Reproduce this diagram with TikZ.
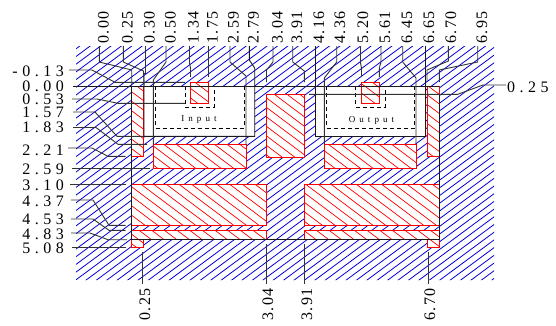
\documentclass[tikz,border=0pt]{standalone}
\usepackage{fontspec}
\setmainfont{Liberation Serif}
\newfontfamily\rotfont[LetterSpace=9]{Liberation Serif}
\newfontfamily\capfont[LetterSpace=45]{Liberation Serif}
\def\trackitem#1{\ifx#1\relax\else#1\kern4.5pt\expandafter\trackitem\fi}
\def\tracked#1{\expandafter\trackitem#1\relax}
\tikzset{
  ink/.style={draw=black!90,line width=0.9pt,line join=miter},
  leader/.style={draw=black!80,line width=0.9pt},
  bluehatch/.style={draw=blue!85!black,line width=0.8pt},
  redhatch/.style={draw=red,line width=0.7pt},
  redbox/.style={draw=red,line width=0.9pt},
  dashbox/.style={draw=black,line width=0.8pt,dash pattern=on 4pt off 3pt},
  hlabel/.style={font=\fontsize{16}{16}\selectfont,anchor=east,inner sep=0pt,text height=10pt,text depth=0pt},
  vlabel/.style={font=\rotfont\fontsize{16}{16}\selectfont,rotate=90,anchor=west,inner sep=0pt},
  blabel/.style={font=\rotfont\fontsize{16}{16}\selectfont,rotate=90,anchor=east,inner sep=0pt},
  caplabel/.style={font=\capfont\fontsize{9}{10}\selectfont,inner sep=0pt}
}
\newcommand{\hatchbox}[4]{%
  \begin{scope}
    \clip (#1,#2) rectangle (#3,#4);
    \foreach \k in {-40,...,40}
      \draw[redhatch] (120,{187+9.5*\k-0.75*12}) -- (460,{187+9.5*\k+0.75*328});
  \end{scope}
  \draw[redbox] (#1,#2) rectangle (#3,#4);
}
\begin{document}
\begin{tikzpicture}[x=1pt,y=-1pt]
\useasboundingbox (0,0) rectangle (556,325);
% blue hatch
\begin{scope}[even odd rule]
  \clip (76,46) rectangle (494,280)
    (144,86.3) rectangle (254.7,136.3)
    (315.3,86.3) rectangle (425.7,136.3)
    (131.7,86.3) rectangle (143,156.3)
    (427.7,86.3) rectangle (439,156.3)
    (153.3,144.3) rectangle (246,168.5)
    (324.3,144.3) rectangle (416.3,168.5)
    (266.3,94.3) rectangle (304.3,157)
    (190.3,82) rectangle (208.7,86.3)
    (361.7,82) rectangle (379.3,86.3)
    (131.7,184.5) rectangle (266.3,225.3)
    (304.3,184.5) rectangle (439,225.3)
    (131.7,230.2) rectangle (266.3,239.7)
    (304.3,230.2) rectangle (439,239.7)
    (131.7,239.7) rectangle (143,247.5)
    (427.7,239.7) rectangle (439,247.5);
  \foreach \k in {-5,...,75}
    \draw[bluehatch] (70,{56.5+7.7*\k+0.74*6}) -- (500,{56.5+7.7*\k-0.74*424});
\end{scope}
% red hatched parts
\hatchbox{131.7}{86.3}{143}{156.3}
\hatchbox{427.7}{86.3}{439}{156.3}
\hatchbox{153.3}{144.3}{246}{168.5}
\hatchbox{324.3}{144.3}{416.3}{168.5}
\hatchbox{266.3}{94.3}{304.3}{157}
\hatchbox{190.3}{82}{208.7}{103.3}
\hatchbox{361.7}{82}{379.3}{103.3}
\hatchbox{131.7}{184.5}{266.3}{225.3}
\hatchbox{304.3}{184.5}{439}{225.3}
\hatchbox{131.7}{230.2}{266.3}{239.7}
\hatchbox{304.3}{230.2}{439}{239.7}
\hatchbox{131.7}{239.7}{143}{247.5}
\hatchbox{427.7}{239.7}{439}{247.5}
% dashed boxes
\draw[dashbox] (155.3,86.3) rectangle (244,128);
\draw[dashbox] (185,86.3) -- (185,107) -- (214,107) -- (214,86.3);
\draw[dashbox] (326.5,86.3) rectangle (414.5,128);
\draw[dashbox] (355.5,86.3) -- (355.5,107) -- (385,107) -- (385,86.3);
\node[caplabel] (inlbl) at (199,119.5) {Input};
\node[caplabel] (outlbl) at (371.5,120) {Output};
% main black lines
\draw[ink] (73,86.3) -- (439,86.3);
\draw[ink] (131.7,86.3) -- (131.7,239.7) -- (439,239.7) -- (439,94.3);
\draw[ink] (144,73) -- (144,136.3) -- (254.7,136.3) -- (254.7,68) -- (249.3,60) -- (249.3,46);
\draw[ink] (315.3,46) -- (315.3,136.3) -- (425.7,136.3) -- (425.7,46);
% top leaders
\draw[leader] (99.3,46) -- (99.3,62) -- (131.7,70) -- (131.7,86.3);
\draw[leader] (123.3,46) -- (123.3,62) -- (143.5,71) -- (144,86.3);
\draw[leader] (145.3,46) -- (145.3,73) -- (144,73);
\draw[leader] (166,46) -- (166,62) -- (153.3,80) -- (153.3,144.3);
\draw[leader] (189.5,46) -- (189.5,63) -- (190.5,68) -- (190.5,77);
\draw[leader] (208.3,46) -- (208.3,77);
\draw[leader] (230,46) -- (230,62) -- (246,76) -- (246,144.3);
\draw[leader] (273,46) -- (273,62) -- (266.5,70) -- (266.5,82);
\draw[leader] (292.7,46) -- (292.7,62) -- (304.3,71) -- (304.3,82);
\draw[leader] (336.7,46) -- (336.7,62) -- (324.3,78) -- (324.3,144.3);
\draw[leader] (360.5,46) -- (360.5,63) -- (361.5,68) -- (361.5,77);
\draw[leader] (381,46) -- (381,62) -- (379.3,68) -- (379.3,77);
\draw[leader] (402.7,46) -- (402.7,62) -- (416,78) -- (416,144.3);
\draw[leader] (448.3,46) -- (448.3,61) -- (427,70) -- (427,82);
\draw[leader] (477.7,46) -- (477.7,62) -- (439.3,70) -- (439.3,82);
% right leader
\draw[leader] (506,85) -- (483,85) -- (457.7,94.3) -- (309,94.3);
% left leaders
\draw[leader] (69,70) -- (92,70) -- (115,82.3) -- (185,82.3);
\draw[leader] (72,99) -- (97,99) -- (118,103.3) -- (185,103.3);
\draw[leader] (73,112) -- (95,112) -- (117,136.3) -- (144,136.3);
\draw[leader] (73,127.5) -- (96,127.5) -- (118,144.3) -- (147,144.3);
\draw[leader] (68,148) -- (92,148) -- (108,156.3) -- (125.5,156.3);
\draw[leader] (72,168.5) -- (150,168.5);
\draw[leader] (70,184.7) -- (126,184.7);
\draw[leader] (71,200) -- (93,200) -- (109,225.3) -- (125.5,225.3);
\draw[leader] (71,219) -- (93,219) -- (109,230.3) -- (125.5,230.3);
\draw[leader] (71,233) -- (90,233) -- (108,239.7) -- (127,239.7);
\draw[leader] (72,247.5) -- (126,247.5);
% bottom leaders
\draw[leader] (142.7,252) -- (142.7,284);
\draw[leader] (266.3,244) -- (266.3,284);
\draw[leader] (304.3,244) -- (304.3,284);
\draw[leader] (428,252) -- (428,284);
% left labels
\foreach \name/\txt/\yy in {a/-0.13/71,b/0.00/86.5,c/0.53/99.5,d/1.57/112.5,e/1.83/127.5,f/2.21/150,g/2.59/169.5,h/3.10/185,i/4.37/201,j/4.53/219.5,k/4.83/234,l/5.08/248.5}
  \node[hlabel] (L\name) at (68.5,\yy) {\tracked{\txt}};
\node[hlabel,anchor=west] (Rlab) at (507,87) {\trackitem 0.25\relax};
% top labels
\foreach \name/\txt/\xx in {a/0.00/103.5,b/0.25/127.5,c/0.30/149.5,d/0.50/170.5,e/1.34/193.5,f/1.75/212.5,g/2.59/233.5,h/2.79/253.5,i/3.04/277.5,j/3.91/297,k/4.16/319,l/4.36/340,m/5.20/363,n/5.61/385,o/6.45/407,p/6.65/429,q/6.70/451,r/6.95/482}
  \node[vlabel] (T\name) at (\xx,44) {\txt};
% bottom labels
\foreach \name/\txt/\xx in {a/0.25/145,b/3.04/268,c/3.91/307,d/6.70/430}
  \node[blabel] (B\name) at (\xx,288) {\txt};
\end{tikzpicture}
\end{document}
